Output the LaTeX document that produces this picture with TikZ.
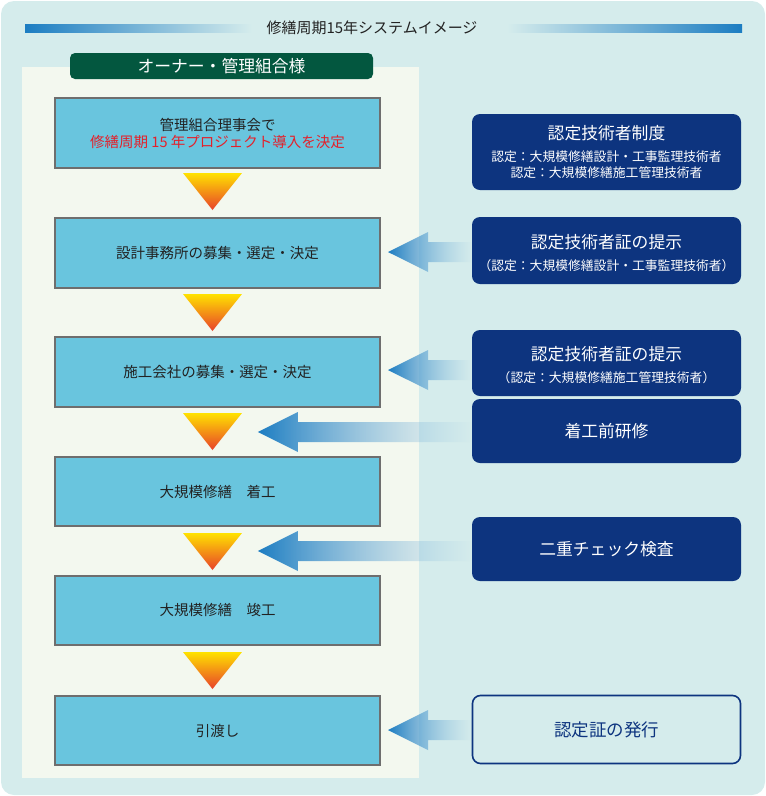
\documentclass[tikz,border=0pt]{standalone}
\usepackage{fontspec}
\setmainfont{Noto Sans CJK JP}
\usetikzlibrary{fadings}
\tikzfading[name=fadeR, left color=transparent!0, right color=transparent!100]
\definecolor{bgteal}{HTML}{D5ECEC}
\definecolor{panel}{HTML}{F3F8EF}
\definecolor{boxblue}{HTML}{69C5DE}
\definecolor{boxborder}{HTML}{6E6E6E}
\definecolor{navy}{HTML}{0D347F}
\definecolor{owngreen}{HTML}{03573F}
\definecolor{arrblue}{HTML}{1C7DC2}
\definecolor{redtxt}{HTML}{E4202A}
\definecolor{tritop}{HTML}{FFE200}
\definecolor{tribot}{HTML}{E8412B}
\definecolor{txt}{HTML}{222222}
\tikzset{
  stepbox/.style={draw=boxborder, line width=1.6pt, fill=boxblue, text=txt, font=\fontsize{14.5}{17}\selectfont, align=center},
  navybox/.style={fill=navy, rounded corners=8pt, text=white, align=center},
  whitebox/.style={draw=navy, line width=1.6pt, fill=bgteal, rounded corners=8pt, text=navy, align=center},
  bigt/.style={font=\fontsize{16.8}{19}\selectfont},
  smallt/.style={font=\fontsize{12.8}{16}\selectfont},
}
\newcommand\downtri[1]{\shade[top color=tritop, bottom color=tribot] (183,#1) -- (242,#1) -- (212.5,#1+37) -- cycle;}
\newcommand\blockarr[3]{% tipx, y, tailx
  \shade[left color=arrblue, right color=arrblue!55!white, path fading=fadeR]
   (#1,#2) -- (#1+40,#2-20) -- (#1+40,#2-10) -- (#3,#2-10) -- (#3,#2+10) -- (#1+40,#2+10) -- (#1+40,#2+20) -- cycle;}
\begin{document}
\begin{tikzpicture}[x=1pt,y=-1pt]
\useasboundingbox (0,0) rectangle (766,796);
\fill[bgteal] (1,1) [rounded corners=13pt] rectangle (765,795);
% title bars
\shade[left color=arrblue, right color=bgteal] (25,24) rectangle (252,32);
\shade[left color=bgteal, right color=arrblue] (507,24) rectangle (742,32);
\node[text=txt, font=\fontsize{15}{17}\selectfont] (title) at (372,28) {修繕周期15年システムイメージ};
% panel
\fill[panel] (22,67) rectangle (419,778);
\node[fill=owngreen, rounded corners=5pt, text=white, minimum width=303pt, minimum height=26pt, inner sep=0pt, font=\fontsize{16.8}{18}\selectfont] (owner) at (221.5,66) {オーナー・管理組合様};
% steps
\node[stepbox, minimum width=325pt, minimum height=70pt] (s1) at (217.5,133) {管理組合理事会で\\\textcolor{redtxt}{修繕周期 15 年プロジェクト導入を決定}};
\node[stepbox, minimum width=325pt, minimum height=70pt] (s2) at (217.5,253) {設計事務所の募集・選定・決定};
\node[stepbox, minimum width=325pt, minimum height=70pt] (s3) at (217.5,372) {施工会社の募集・選定・決定};
\node[stepbox, minimum width=325pt, minimum height=69pt] (s4) at (217.5,491.5) {大規模修繕　着工};
\node[stepbox, minimum width=325pt, minimum height=69pt] (s5) at (217.5,610.5) {大規模修繕　竣工};
\node[stepbox, minimum width=325pt, minimum height=69pt] (s6) at (217.5,730.5) {引渡し};
\downtri{173}
\downtri{294}
\downtri{413}
\downtri{533}
\downtri{652}
% arrows
\blockarr{388}{252}{472}
\blockarr{388}{370}{472}
\blockarr{258}{432}{472}
\blockarr{258}{551}{472}
\blockarr{388}{730}{472}
% right boxes
\node[navybox, minimum width=269pt, minimum height=76pt] (r1) at (606.5,152) {};
\node[text=white, bigt] (r1a) at (606.5,133) {認定技術者制度};
\node[text=white, smallt] (r1b) at (606.5,157) {認定：大規模修繕設計・工事監理技術者};
\node[text=white, smallt] (r1c) at (606.5,173) {認定：大規模修繕施工管理技術者};
\node[navybox, minimum width=269pt, minimum height=67pt] (r2) at (606.5,250.5) {};
\node[text=white, bigt] (r2a) at (606.5,242) {認定技術者証の提示};
\node[text=white, smallt] (r2b) at (606.5,266) {（認定：大規模修繕設計・工事監理技術者）};
\node[navybox, minimum width=269pt, minimum height=66pt] (r3) at (606.5,363) {};
\node[text=white, bigt] (r3a) at (606.5,354) {認定技術者証の提示};
\node[text=white, smallt] (r3b) at (606.5,378) {（認定：大規模修繕施工管理技術者）};
\node[navybox, minimum width=269pt, minimum height=64pt, bigt] (r4) at (606.5,431) {着工前研修};
\node[navybox, minimum width=269pt, minimum height=64pt, bigt] (r5) at (606.5,549) {二重チェック検査};
\node[whitebox, minimum width=268pt, minimum height=68pt, font=\fontsize{17.5}{19}\selectfont] (r6) at (606.5,729.5) {認定証の発行};
\end{tikzpicture}
\end{document}
